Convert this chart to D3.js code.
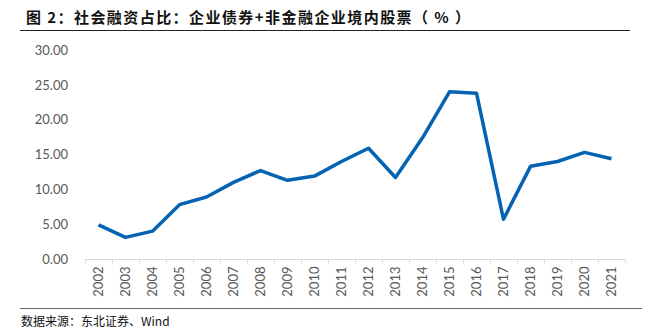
<!DOCTYPE html>
<html>
<head>
<meta charset="utf-8">
<script src="https://cdn.jsdelivr.net/npm/d3@7/dist/d3.min.js"></script>
<style>
  html, body { margin: 0; padding: 0; background: #fff; }
  svg { display: block; }
</style>
</head>
<body>
<svg id="chart" width="651" height="334"></svg>
<script>
// Share of social financing: corporate bonds + domestic equity of non-financial firms (%)
const years = ["2002","2003","2004","2005","2006","2007","2008","2009","2010","2011",
               "2012","2013","2014","2015","2016","2017","2018","2019","2020","2021"];
const shareValues = [4.9, 3.1, 4.0, 7.8, 8.9, 11.0, 12.7, 11.3, 11.9, 14.0,
                     15.9, 11.7, 17.4, 24.0, 23.8, 5.7, 13.3, 14.0, 15.3, 14.4];
const yTicks = [0, 5, 10, 15, 20, 25, 30];

const titleText = "图 2：社会融资占比：企业债券+非金融企业境内股票（ % ）";
const sourceText = "数据来源：东北证券、Wind";

const svg = d3.select("#chart");
const plot = { left: 85, right: 625, top: 50, bottom: 259 };

const x = d3.scaleBand().domain(years).range([plot.left, plot.right]);
const y = d3.scaleLinear().domain([0, 30]).range([plot.bottom, plot.top]);

const cjk = "'Noto Sans CJK SC', sans-serif";
const num = "Lato, 'Open Sans', sans-serif";

// Title and rules
svg.append("text")
  .attr("x", 26).attr("y", 23)
  .attr("font-family", cjk).attr("font-weight", 700)
  .attr("font-size", 15).attr("fill", "#111")
  .attr("textLength", 444).attr("lengthAdjust", "spacing")
  .text(titleText);

svg.append("line")
  .attr("x1", 20).attr("x2", 630).attr("y1", 30.5).attr("y2", 30.5)
  .attr("stroke", "#222").attr("stroke-width", 1.2);

svg.append("line")
  .attr("x1", 20).attr("x2", 642).attr("y1", 308.5).attr("y2", 308.5)
  .attr("stroke", "#666").attr("stroke-width", 1.2);

svg.append("text")
  .attr("x", 21).attr("y", 326)
  .attr("font-family", cjk)
  .attr("font-size", 12).attr("fill", "#111")
  .text(sourceText);

// Y axis labels (no axis line)
const yAxis = d3.axisLeft(y).tickValues(yTicks).tickFormat(d3.format(".2f")).tickSize(0).tickPadding(0);
const gy = svg.append("g").attr("transform", `translate(${68},0)`).call(yAxis);
gy.select(".domain").remove();
gy.selectAll("text")
  .attr("font-family", num).attr("font-size", 13).attr("fill", "#595959");

// X axis with ticks at band boundaries
const gx = svg.append("g").attr("transform", `translate(0,${plot.bottom + 0.5})`);
gx.append("line")
  .attr("x1", plot.left).attr("x2", plot.right)
  .attr("stroke", "#d9d9d9").attr("stroke-width", 1);
const boundaries = years.map(d => x(d)).concat([x(years[years.length - 1]) + x.bandwidth()]);
gx.selectAll("line.tick")
  .data(boundaries).enter().append("line")
  .attr("class", "tick")
  .attr("x1", d => Math.round(d) + 0.5).attr("x2", d => Math.round(d) + 0.5)
  .attr("y1", 0).attr("y2", 4)
  .attr("stroke", "#d9d9d9").attr("stroke-width", 1);
gx.selectAll("text")
  .data(years).enter().append("text")
  .attr("transform", d => `translate(${x(d) + x.bandwidth() / 2 + 4.5},7) rotate(-90)`)
  .attr("text-anchor", "end")
  .attr("font-family", num).attr("font-size", 13).attr("fill", "#595959")
  .text(d => d);

// Line series
const line = d3.line()
  .x((d, i) => x(years[i]) + x.bandwidth() / 2)
  .y(d => y(d));

svg.append("path")
  .datum(shareValues)
  .attr("d", line)
  .attr("fill", "none")
  .attr("stroke", "#0563b4")
  .attr("stroke-width", 3.5)
  .attr("stroke-linejoin", "round")
  .attr("stroke-linecap", "butt");
</script>
</body>
</html>
